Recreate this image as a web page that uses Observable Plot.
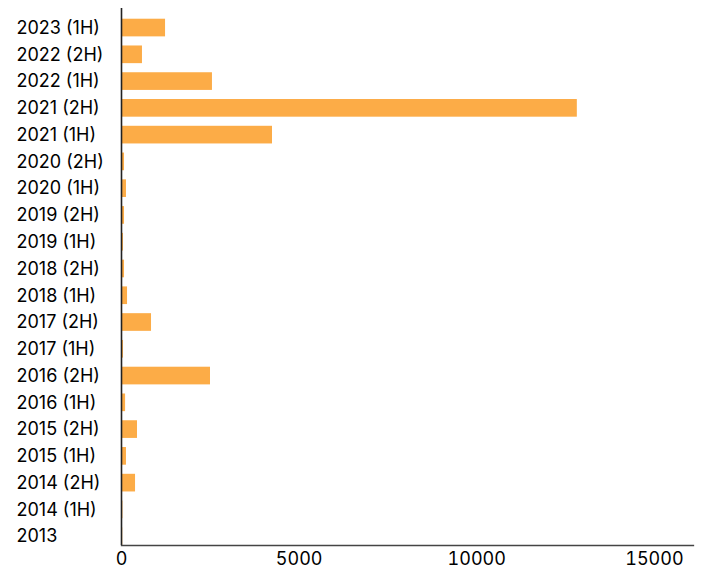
<!DOCTYPE html>
<html>
<head>
<meta charset="utf-8">
<script src="https://cdn.jsdelivr.net/npm/d3@7"></script>
<script src="https://cdn.jsdelivr.net/npm/@observablehq/plot@0.6"></script>
<style>
  html, body { margin: 0; padding: 0; background: #fff; }
</style>
</head>
<body>
<div id="chart"></div>
<script>
const categories = ["2023 (1H)", "2022 (2H)", "2022 (1H)", "2021 (2H)", "2021 (1H)", "2020 (2H)", "2020 (1H)", "2019 (2H)", "2019 (1H)", "2018 (2H)", "2018 (1H)", "2017 (2H)", "2017 (1H)", "2016 (2H)", "2016 (1H)", "2015 (2H)", "2015 (1H)", "2014 (2H)", "2014 (1H)", "2013"];
const values = [1240, 590, 2560, 12830, 4250, 85, 140, 85, 55, 85, 170, 845, 55, 2505, 115, 450, 140, 395, 40, 35];
const xTicks = [0, 5000, 10000, 15000];

const data = categories.map((c, i) => ({label: c, value: values[i]}));

const chart = Plot.plot({
  width: 703,
  height: 571,
  marginLeft: 121,
  marginRight: 10,
  marginTop: 8,
  marginBottom: 26,
  style: {fontFamily: "Inter, 'Noto Sans', sans-serif", fontSize: "18px", color: "#000", background: "#fff"},
  x: {domain: [0, 16100]},
  y: {domain: categories, paddingInner: 0.34, paddingOuter: 0.2, align: 1, round: false},
  marks: [
    Plot.barX(data, {x: "value", y: "label", fill: "#FCAC47"}),
    Plot.ruleX([0], {stroke: "#222", strokeWidth: 1.6}),
    Plot.frame({anchor: "bottom", stroke: "#444", strokeWidth: 1.3}),
    Plot.axisX({ticks: xTicks, tickSize: 0, tickPadding: 7, tickFormat: d => String(d), label: null, fontSize: 18}),
    Plot.axisY({tickSize: 0, tickPadding: 105, textAnchor: "start", label: null, fontSize: 18})
  ]
});
document.getElementById("chart").appendChild(chart);
</script>
</body>
</html>
